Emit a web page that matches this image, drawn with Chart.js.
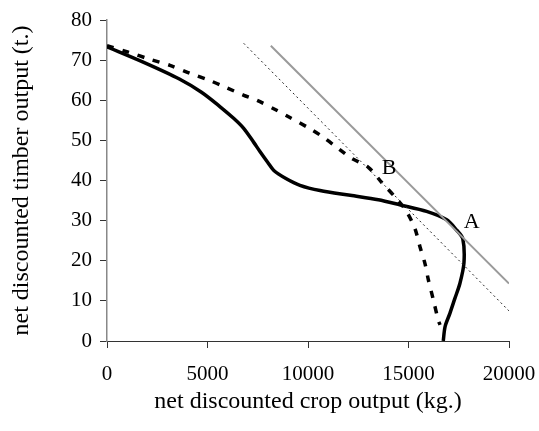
<!DOCTYPE html>
<html>
<head>
  <title>timber vs crop output</title>
  <style>
    html, body { margin: 0; padding: 0; background: #fff; }
    #wrap { width: 539px; height: 431px; }
  </style>
  <script src="https://cdn.jsdelivr.net/npm/chart.js"></script>
</head>
<body>
  <div id="wrap"><canvas id="chart" width="539" height="431"></canvas></div>

  <script>
    // frontier curves: [crop kg, timber t]
    const solidCrop = [0, 1800, 3600, 4700, 5600, 6300, 6800, 7300, 7600, 8000, 8300, 8900, 9600, 10600, 12100, 13500, 14600, 15900, 16900, 17400, 17700, 17760, 17560, 17300, 17060, 16820, 16730];
    const solidTimber = [73.3, 69.5, 65.3, 62, 58.5, 55.5, 53, 49.5, 47.3, 44.5, 42.5, 40.5, 38.8, 37.5, 36.3, 35.2, 33.9, 32.3, 30.2, 27.6, 25.5, 19.5, 14.4, 10.5, 6.9, 3.6, 0];

    const dashCrop = [0, 1060, 2140, 3130, 4130, 5120, 5870, 6780, 7450, 8440, 9100, 10100, 10700, 11500, 12170, 13000, 13670, 14400, 14900, 15320, 15570, 15820, 15990, 16240, 16480, 16570];
    const dashTimber = [73.6, 72, 70.2, 68.7, 66.7, 64.9, 63.3, 61.3, 60, 57.5, 55.7, 52.9, 51, 48, 45.5, 43.3, 39.5, 35.5, 32.3, 28, 23.5, 19.3, 15.2, 10.2, 5.2, 4];

    // tangent lines
    const lineBCrop = [6800, 20000];
    const lineBTimber = [74.2, 7.5];
    const lineACrop = [8150, 20000];
    const lineATimber = [73.6, 14.3];

    // point labels
    const pointNames = ['A', 'B'];
    const pointCrop = [18150, 14030];
    const pointTimber = [29.5, 43.0];

    const xTicks = [0, 5000, 10000, 15000, 20000];
    const yTicks = [0, 10, 20, 30, 40, 50, 60, 70, 80];

    function toPoints(xs, ys) {
      return xs.map((x, i) => ({ x: x, y: ys[i] }));
    }

    const serif = "'Liberation Serif', 'Times New Roman', serif";

    const pointLabels = {
      id: 'pointLabels',
      afterDatasetsDraw(chart) {
        const ctx = chart.ctx;
        const xs = chart.scales.x;
        const ys = chart.scales.y;
        ctx.save();
        ctx.font = '22px ' + serif;
        ctx.fillStyle = '#000';
        ctx.textAlign = 'center';
        ctx.textBaseline = 'middle';
        pointNames.forEach((name, i) => {
          ctx.fillText(name, xs.getPixelForValue(pointCrop[i]), ys.getPixelForValue(pointTimber[i]));
        });
        ctx.restore();
      }
    };

    new Chart(document.getElementById('chart'), {
      type: 'scatter',
      data: {
        datasets: [
          {
            data: toPoints(lineACrop, lineATimber),
            showLine: true,
            borderColor: '#9a9a9a',
            borderWidth: 2,
            pointRadius: 0,
          },
          {
            data: toPoints(lineBCrop, lineBTimber),
            showLine: true,
            borderColor: '#222',
            borderWidth: 1,
            borderDash: [2, 3],
            pointRadius: 0,
          },
          {
            data: toPoints(dashCrop, dashTimber),
            showLine: true,
            borderColor: '#000',
            borderWidth: 3.5,
            borderDash: [7, 9],
            tension: 0.3,
            pointRadius: 0,
          },
          {
            data: toPoints(solidCrop, solidTimber),
            showLine: true,
            borderColor: '#000',
            borderWidth: 3.5,
            tension: 0.3,
            pointRadius: 0,
          },
        ],
      },
      options: {
        responsive: false,
        animation: false,
        events: [],
        layout: { padding: { left: 7.6, right: 30, top: 20, bottom: 14.6 } },
        plugins: {
          legend: { display: false },
          tooltip: { enabled: false },
        },
        scales: {
          x: {
            type: 'linear',
            min: 0,
            max: 20000,
            afterBuildTicks: (scale) => { scale.ticks = xTicks.map(v => ({ value: v })); },
            afterFit: (scale) => {
              scale.height = 75.4;
              scale.paddingLeft = 0;
              scale.paddingRight = 0;
            },
            border: { color: '#333', width: 1 },
            grid: { drawOnChartArea: false, drawTicks: true, tickLength: 7, color: '#333' },
            ticks: { color: '#000', padding: 14, maxRotation: 0, callback: (v) => String(v), font: { family: serif, size: 21 } },
            title: { display: true, text: 'net discounted crop output (kg.)', color: '#000', padding: 0, font: { family: serif, size: 24 } },
          },
          y: {
            type: 'linear',
            min: 0,
            max: 80,
            afterBuildTicks: (scale) => { scale.ticks = yTicks.map(v => ({ value: v })); },
            afterFit: (scale) => {
              scale.width = 99.4;
              scale.paddingTop = 0;
              scale.paddingBottom = 0;
            },
            border: { color: '#888', width: 1.5 },
            grid: { drawOnChartArea: false, drawTicks: true, tickLength: 7, color: '#333' },
            ticks: { color: '#000', padding: 8, callback: (v) => String(v), font: { family: serif, size: 21 } },
            title: { display: true, text: 'net discounted timber output (t.)', color: '#000', padding: 0, font: { family: serif, size: 24 } },
          },
        },
      },
      plugins: [pointLabels],
    });
  </script>
</body>
</html>
